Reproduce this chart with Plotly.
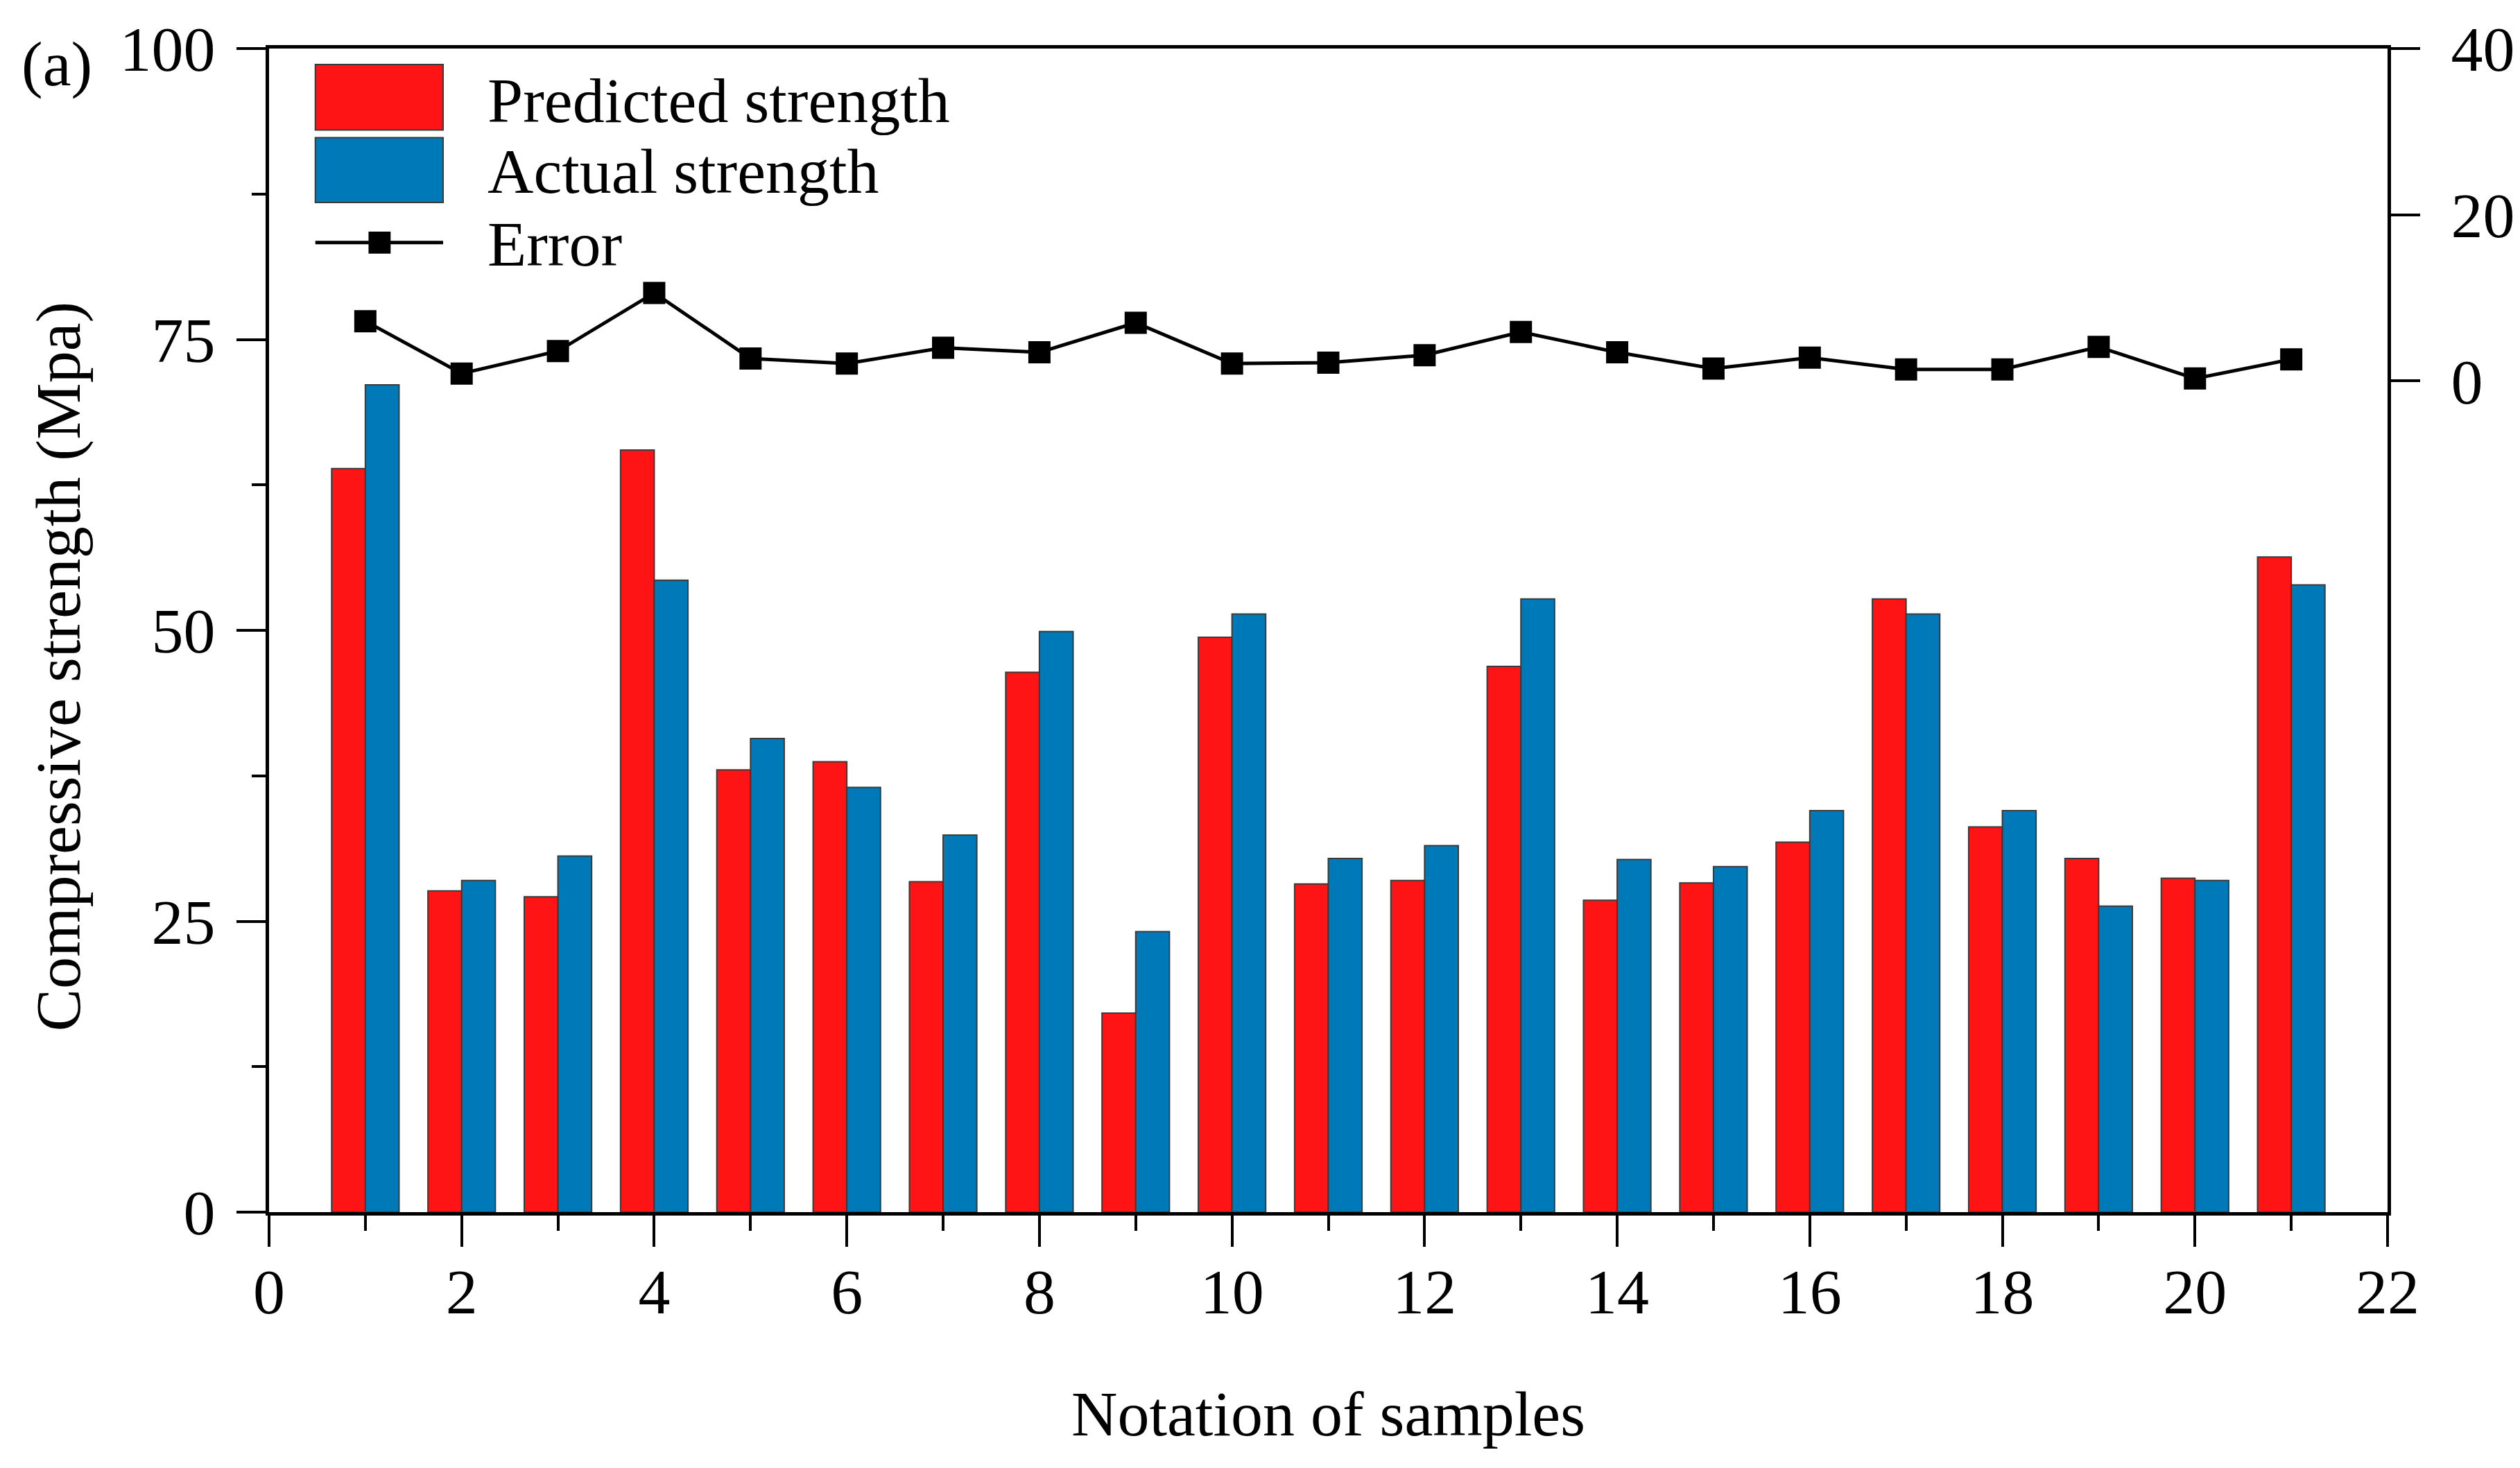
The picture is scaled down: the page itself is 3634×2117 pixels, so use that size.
import plotly.graph_objects as go

samples = list(range(1, 22))
predicted = [63.9, 27.6, 27.1, 65.5, 38.0, 38.7, 28.4, 46.4, 17.1, 49.4, 28.2,
             28.5, 46.9, 26.8, 28.3, 31.8, 52.7, 33.1, 30.4, 28.7, 56.3]
actual = [71.1, 28.5, 30.6, 54.3, 40.7, 36.5, 32.4, 49.9, 24.1, 51.4, 30.4,
          31.5, 52.7, 30.3, 29.7, 34.5, 51.4, 34.5, 26.3, 28.5, 53.9]
error = [7.2, 0.9, 3.6, 10.6, 2.7, 2.1, 4.0, 3.45, 7.0, 2.1, 2.2,
         3.1, 5.9, 3.45, 1.5, 2.8, 1.4, 1.4, 4.1, 0.3, 2.6]

RED = "#FE1414"
BLUE = "#0079B9"
FONT = "Liberation Serif"
FS = 92

# plot area wanted at page px 382..3449 x 63..1748 (small page offset compensated)
OFF_X, OFF_Y = 2, 8
W, H = 3634 - 2 * OFF_X, 2117 - 2 * OFF_Y
PL, PR, PT, PB = 382, 3449, 63, 1748
ML, MT = PL - OFF_X, PT - OFF_Y
MR = W - (PR - OFF_X)
MB = H - (PB - OFF_Y)
PW, PH = PR - PL, PB - PT


def px(x):
    return (x - PL) / PW


def py(y):
    return (PB - y) / PH


fig = go.Figure()
fig.add_trace(go.Bar(x=samples, y=predicted, name="Predicted strength",
                     marker=dict(color=RED, line=dict(color="#3a3a3a", width=2)),
                     showlegend=False))
fig.add_trace(go.Bar(x=samples, y=actual, name="Actual strength",
                     marker=dict(color=BLUE, line=dict(color="#3a3a3a", width=2)),
                     showlegend=False))
fig.add_trace(go.Scatter(x=samples, y=error, name="Error", yaxis="y2",
                         mode="lines+markers",
                         line=dict(color="black", width=5),
                         marker=dict(symbol="square", size=32, color="black"),
                         showlegend=False))

axis_common = dict(showline=True, linecolor="black", linewidth=5,
                   ticks="outside", tickcolor="black", tickwidth=4,
                   showgrid=False, zeroline=False,
                   tickfont=dict(family=FONT, size=FS, color="black"))

fig.update_layout(
    width=W, height=H, autosize=False,
    margin=dict(l=ML, r=MR, t=MT, b=MB),
    paper_bgcolor="white", plot_bgcolor="white",
    barmode="group", bargap=0.3, bargroupgap=0,
    font=dict(family=FONT, size=FS, color="black"),
    xaxis=dict(range=[0, 22], dtick=2, tick0=0, ticklen=45, mirror=True,
               ticklabelstandoff=-14,
               minor=dict(dtick=1, ticklen=22, tickwidth=4, tickcolor="black", ticks="outside"),
               title=dict(text="Notation of samples", standoff=94,
                          font=dict(family=FONT, size=FS)),
               **axis_common),
    yaxis=dict(range=[0, 100], dtick=25, tick0=0, ticklen=42, mirror=True,
               ticklabelstandoff=12,
               minor=dict(dtick=12.5, ticklen=20, tickwidth=4, tickcolor="black", ticks="outside"),
               **axis_common),
    yaxis2=dict(range=[-100, 40], tickvals=[0, 20, 40], ticklen=42,
                overlaying="y", side="right", ticklabelstandoff=26,
                **axis_common),
)

# legend drawn as decoration
shapes = [
    dict(type="rect", xref="paper", yref="paper", x0=px(449), x1=px(634), y0=py(181), y1=py(86),
         fillcolor=RED, line=dict(color="#3a3a3a", width=2)),
    dict(type="rect", xref="paper", yref="paper", x0=px(449), x1=px(634), y0=py(286), y1=py(192),
         fillcolor=BLUE, line=dict(color="#3a3a3a", width=2)),
    dict(type="line", xref="paper", yref="paper", x0=px(449), x1=px(634), y0=py(344), y1=py(344),
         line=dict(color="black", width=5)),
    dict(type="rect", xref="paper", yref="paper", x0=px(526), x1=px(558), y0=py(360), y1=py(328),
         fillcolor="black", line=dict(color="black", width=0)),
]
fig.update_layout(shapes=shapes)

ann = []
for txt, yc in [("Predicted strength", 138), ("Actual strength", 241), ("Error", 346)]:
    ann.append(dict(text=txt, xref="paper", yref="paper", x=px(696), y=py(yc),
                    xanchor="left", yanchor="middle", showarrow=False,
                    font=dict(family=FONT, size=FS, color="black")))
ann.append(dict(text="(a)", xref="paper", yref="paper", x=px(22), y=py(85),
                xanchor="left", yanchor="middle", showarrow=False,
                font=dict(family=FONT, size=FS, color="black")))
ann.append(dict(text="Compressive strength (Mpa)", xref="paper", yref="paper",
                x=px(77), y=py(958), textangle=-90,
                xanchor="center", yanchor="middle", showarrow=False,
                font=dict(family=FONT, size=FS, color="black")))
fig.update_layout(annotations=ann)

fig.write_html("out.html")
